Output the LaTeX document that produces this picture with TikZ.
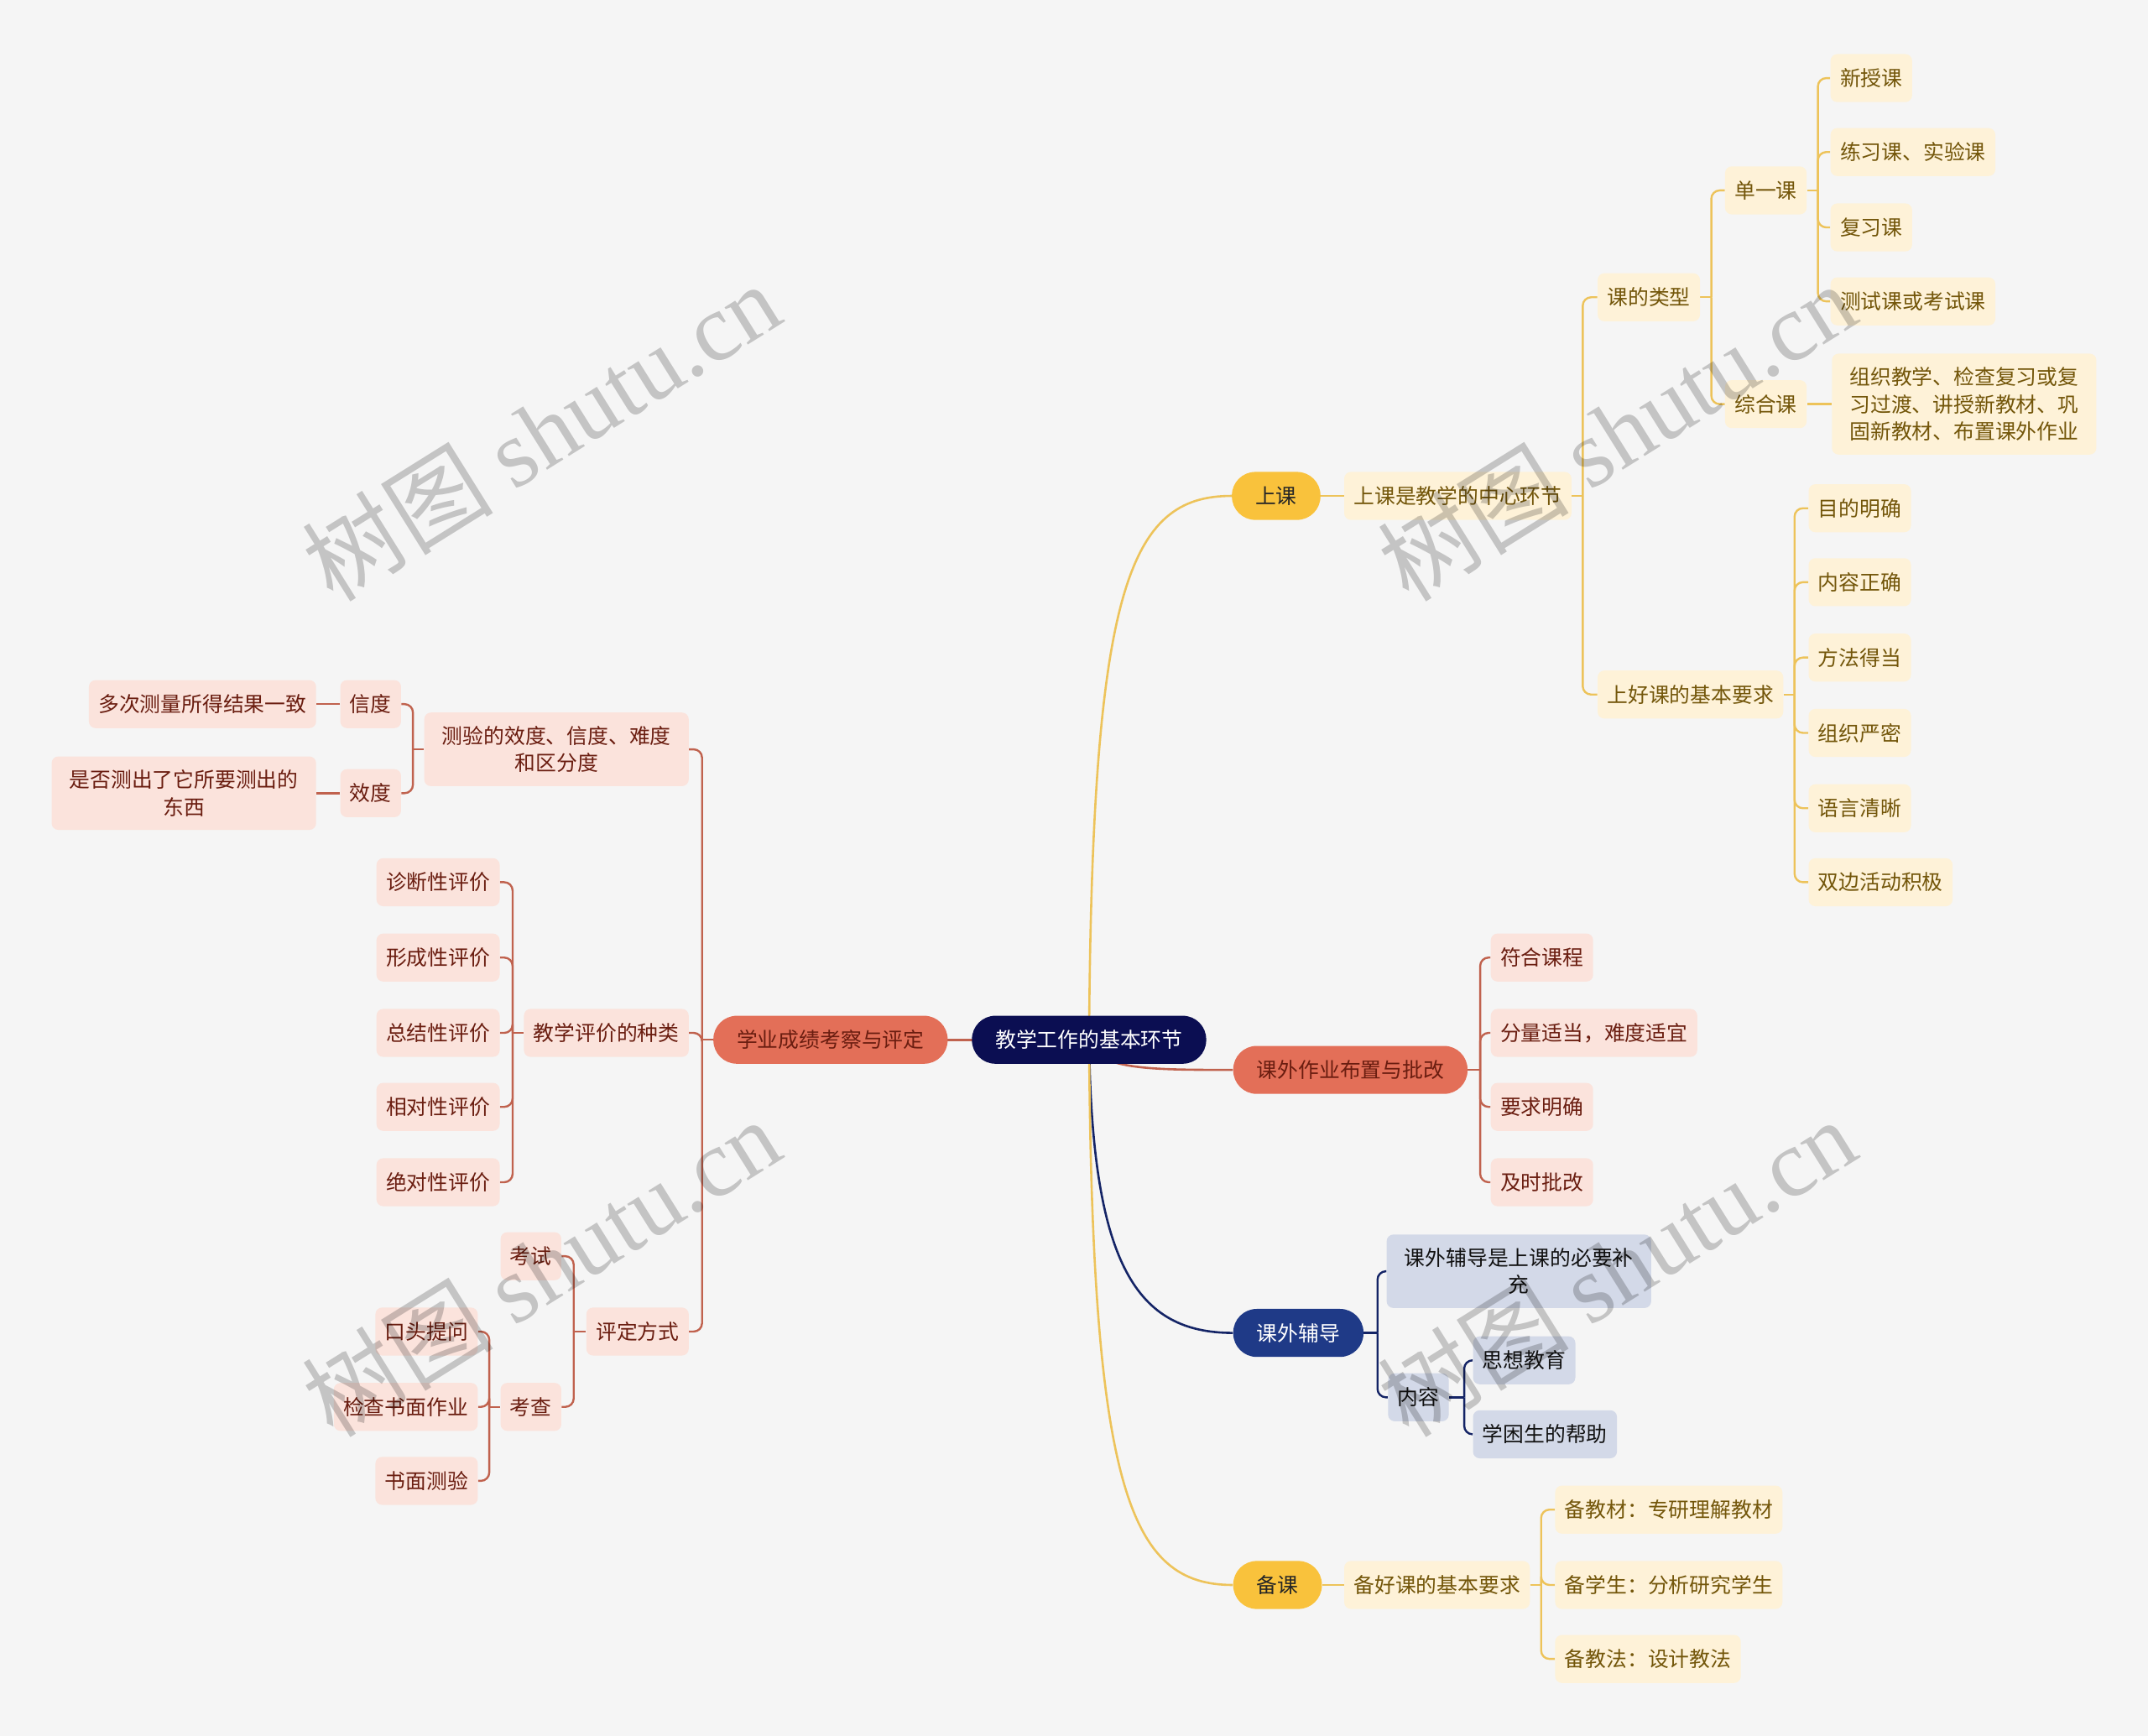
\documentclass[tikz,border=0pt]{standalone}
\usepackage{fontspec}
\setmainfont{Noto Sans CJK SC}
\newfontfamily\wmfont{Liberation Serif}
\usetikzlibrary{backgrounds}
\definecolor{bgc}{HTML}{F5F5F5}
\definecolor{rootc}{HTML}{0B0E52}
\definecolor{yel}{HTML}{F9C23C}
\definecolor{yelbox}{HTML}{FEF2D8}
\definecolor{yeltxt}{HTML}{73560A}
\definecolor{yelline}{HTML}{EDC35A}
\definecolor{sal}{HTML}{E36F58}
\definecolor{salbox}{HTML}{FBE3DC}
\definecolor{saltxt}{HTML}{6A1D10}
\definecolor{salline}{HTML}{C0624E}
\definecolor{blu}{HTML}{1F3A87}
\definecolor{blubox}{HTML}{D3D9E8}
\definecolor{blutxt}{HTML}{111111}
\definecolor{bluline}{HTML}{142466}
\tikzset{
  nbase/.style={font=\fontsize{12.4}{16.3}\selectfont, inner xsep=5.7pt, inner ysep=4pt, minimum height=28.6pt, rounded corners=4pt, align=center},
  multi/.style={inner xsep=10.6pt, inner ysep=8pt},
  pill/.style={nbase, rounded corners=14pt, inner xsep=14pt},
  ybox/.style={nbase, fill=yelbox, text=yeltxt},
  sbox/.style={nbase, fill=salbox, text=saltxt},
  bbox/.style={nbase, fill=blubox, text=blutxt},
  ypill/.style={pill, fill=yel, text=black!85},
  spill/.style={pill, fill=sal, text=saltxt},
  bpill/.style={pill, fill=blu, text=white},
  rootn/.style={pill, fill=rootc, text=white},
  yl/.style={draw=yelline, line width=1.2pt},
  sl/.style={draw=salline, line width=1.2pt},
  bl/.style={draw=bluline, line width=1.2pt},
  wm/.style={rotate=32, text=black, opacity=0.2, font=\fontsize{57}{57}\selectfont}
}
\newcommand\brR[4]{\draw[#1] (#2.east) -- ++(#3,0) coordinate (#2-b);
  \foreach \c in {#4}{\draw[#1,rounded corners=5pt] (#2-b) |- (\c.west);}}
\newcommand\brL[4]{\draw[#1] (#2.west) -- ++(-#3,0) coordinate (#2-b);
  \foreach \c in {#4}{\draw[#1,rounded corners=5pt] (#2-b) |- (\c.east);}}
\begin{document}
\begin{tikzpicture}[x=0.8163pt,y=-0.8163pt]
\useasboundingbox (0,0) rectangle (1568,1267);
% root and main branches
\node[rootn] (root) at (795,759) {教学工作的基本环节};
\node[ypill,anchor=west] (sk) at (899,362) {上课};
\node[spill,anchor=west] (kwzy) at (900,781) {课外作业布置与批改};
\node[bpill,anchor=west] (kwfd) at (900,973) {课外辅导};
\node[ypill,anchor=west] (bk) at (900,1157) {备课};
\node[spill,anchor=east] (xy) at (692,759) {学业成绩考察与评定};
% 上课
\node[ybox,anchor=west] (sk1) at (981,362) {上课是教学的中心环节};
\node[ybox,anchor=west] (lx) at (1166,217) {课的类型};
\node[ybox,anchor=west] (hk) at (1166,507) {上好课的基本要求};
\node[ybox,anchor=west] (dy) at (1259,139) {单一课};
\node[ybox,anchor=west] (zh) at (1259,295) {综合课};
\node[ybox,anchor=west] (a1) at (1336,57) {新授课};
\node[ybox,anchor=west] (a2) at (1336,111) {练习课、实验课};
\node[ybox,anchor=west] (a3) at (1336,166) {复习课};
\node[ybox,anchor=west] (a4) at (1336,220) {测试课或考试课};
\node[ybox,multi,anchor=west] (zh1) at (1337,295) {组织教学、检查复习或复\\习过渡、讲授新教材、巩\\固新教材、布置课外作业};
\node[ybox,anchor=west] (b1) at (1320,371) {目的明确};
\node[ybox,anchor=west] (b2) at (1320,425) {内容正确};
\node[ybox,anchor=west] (b3) at (1320,480) {方法得当};
\node[ybox,anchor=west] (b4) at (1320,535) {组织严密};
\node[ybox,anchor=west] (b5) at (1320,590) {语言清晰};
\node[ybox,anchor=west] (b6) at (1320,644) {双边活动积极};
% 课外作业
\node[sbox,anchor=west] (c1) at (1088,699) {符合课程};
\node[sbox,anchor=west] (c2) at (1088,754) {分量适当，难度适宜};
\node[sbox,anchor=west] (c3) at (1088,808) {要求明确};
\node[sbox,anchor=west] (c4) at (1088,863) {及时批改};
% 课外辅导
\node[bbox,multi,anchor=west] (d1) at (1012,928) {课外辅导是上课的必要补\\充};
\node[bbox,anchor=west] (d2) at (1013,1020) {内容};
\node[bbox,anchor=west] (d3) at (1075,993) {思想教育};
\node[bbox,anchor=west] (d4) at (1075,1047) {学困生的帮助};
% 备课
\node[ybox,anchor=west] (e0) at (981,1157) {备好课的基本要求};
\node[ybox,anchor=west] (e1) at (1135,1102) {备教材：专研理解教材};
\node[ybox,anchor=west] (e2) at (1135,1157) {备学生：分析研究学生};
\node[ybox,anchor=west] (e3) at (1135,1211) {备教法：设计教法};
% 学业成绩
\node[sbox,multi,anchor=east] (f1) at (503,547) {测验的效度、信度、难度\\和区分度};
\node[sbox,anchor=east] (f2) at (503,754) {教学评价的种类};
\node[sbox,anchor=east] (f3) at (503,972) {评定方式};
\node[sbox,anchor=east] (g1) at (293,514) {信度};
\node[sbox,anchor=east] (g2) at (293,579) {效度};
\node[sbox,anchor=east] (h1) at (231,514) {多次测量所得结果一致};
\node[sbox,multi,anchor=east] (h2) at (231,579) {是否测出了它所要测出的\\东西};
\node[sbox,anchor=east] (i1) at (365,644) {诊断性评价};
\node[sbox,anchor=east] (i2) at (365,699) {形成性评价};
\node[sbox,anchor=east] (i3) at (365,754) {总结性评价};
\node[sbox,anchor=east] (i4) at (365,808) {相对性评价};
\node[sbox,anchor=east] (i5) at (365,863) {绝对性评价};
\node[sbox,anchor=east] (j1) at (410,917) {考试};
\node[sbox,anchor=east] (j2) at (410,1027) {考查};
\node[sbox,anchor=east] (k1) at (349,972) {口头提问};
\node[sbox,anchor=east] (k2) at (349,1027) {检查书面作业};
\node[sbox,anchor=east] (k3) at (349,1081) {书面测验};
% connectors
\begin{scope}[on background layer]
\fill[bgc] (0,0) rectangle (1568,1267);
\draw[yl,line width=1.3pt] (root.center) .. controls +(2,-330) and +(-75,0) .. (sk.west);
\draw[sl,line width=1.3pt] (root.center) .. controls +(4,22) and +(-60,0) .. (kwzy.west);
\draw[bl,line width=1.3pt] (root.center) .. controls +(2,165) and +(-70,0) .. (kwfd.west);
\draw[yl,line width=1.3pt] (root.center) .. controls +(2,330) and +(-75,0) .. (bk.west);
\draw[sl,line width=1.3pt] (root.center) -- (xy.center);
\draw[yl] (sk.east) -- (sk1.west);
\brR{yl}{sk1}{8}{lx,hk}
\brR{yl}{lx}{8}{dy,zh}
\brR{yl}{dy}{8}{a1,a2,a3,a4}
\draw[yl] (zh.east) -- (zh1.west);
\brR{yl}{hk}{8}{b1,b2,b3,b4,b5,b6}
\brR{sl}{kwzy}{9}{c1,c2,c3,c4}
\brR{bl}{kwfd}{10}{d1,d2}
\brR{bl}{d2}{11}{d3,d4}
\draw[yl] (bk.east) -- (e0.west);
\brR{yl}{e0}{8}{e1,e2,e3}
\brL{sl}{xy}{8}{f1,f2,f3}
\brL{sl}{f1}{8}{g1,g2}
\draw[sl] (g1.west) -- (h1.east);
\draw[sl] (g2.west) -- (h2.east);
\brL{sl}{f2}{8}{i1,i2,i3,i4,i5}
\brL{sl}{f3}{9}{j1,j2}
\brL{sl}{j2}{8}{k1,k2,k3}
\end{scope}
% watermarks
\node[wm] (w1) at (395,315) {树图 {\wmfont shutu.cn}};
\node[wm] (w2) at (1180,315) {树图 {\wmfont shutu.cn}};
\node[wm] (w3) at (395,925) {树图 {\wmfont shutu.cn}};
\node[wm] (w4) at (1180,925) {树图 {\wmfont shutu.cn}};
\end{tikzpicture}
\end{document}
